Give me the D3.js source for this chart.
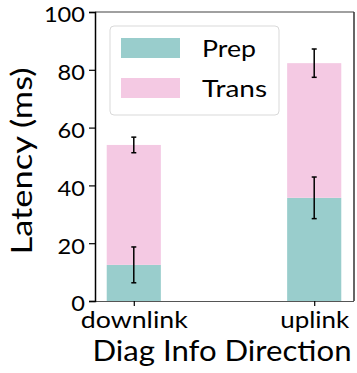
<!DOCTYPE html>
<html><head><meta charset="utf-8">
<script src="https://cdn.jsdelivr.net/npm/d3@7"></script>
<style>body{margin:0;background:#fff}svg{display:block}text{font-family:Lato,"Open Sans",sans-serif;fill:#000}</style>
</head><body><svg id="c" width="357" height="373"></svg>
<script>
const categories = ["downlink", "uplink"];
const seriesNames = ["Prep", "Trans"];
const prepValues = [12.5, 35.7];
const transValues = [41.5, 46.6];
const prepErr = [6.2, 7.2];
const transErr = [2.7, 4.9];
const yTicks = [0, 20, 40, 60, 80, 100];
const colors = ["#99cdcc", "#f4c9e3"];

const svg = d3.select("#c");
const L = 95, R = 353, T = 12, B = 301;
const x = d3.scaleLinear().domain([-0.215, 1.215]).range([L, R]);
const y = d3.scaleLinear().domain([0, 100]).range([B, T]);
const bw = 0.3;

// width-fit helper (reference font is narrower/shorter than available fonts)
function fit(sel, w) {
  sel.attr("textLength", w).attr("lengthAdjust", "spacingAndGlyphs");
}

const data = categories.map((c, i) => ({c, i, prep: prepValues[i], trans: transValues[i], pe: prepErr[i], te: transErr[i]}));

// bars
const g = svg.append("g");
g.selectAll("rect.prep").data(data).join("rect")
  .attr("x", d => x(d.i - bw/2)).attr("width", d => x(d.i + bw/2) - x(d.i - bw/2))
  .attr("y", d => y(d.prep)).attr("height", d => y(0) - y(d.prep)).attr("fill", colors[0]);
g.selectAll("rect.trans").data(data).join("rect")
  .attr("x", d => x(d.i - bw/2)).attr("width", d => x(d.i + bw/2) - x(d.i - bw/2))
  .attr("y", d => y(d.prep + d.trans)).attr("height", d => y(d.prep) - y(d.prep + d.trans)).attr("fill", colors[1]);

// error bars
const errs = [];
data.forEach(d => {
  errs.push({i: d.i, v: d.prep, e: d.pe});
  errs.push({i: d.i, v: d.prep + d.trans, e: d.te});
});
const eg = svg.append("g").attr("stroke", "#000").attr("stroke-width", 1.5);
errs.forEach(e => {
  const cx = x(e.i);
  eg.append("line").attr("x1", cx).attr("x2", cx).attr("y1", y(e.v - e.e)).attr("y2", y(e.v + e.e));
  [e.v - e.e, e.v + e.e].forEach(v => eg.append("line").attr("x1", cx - 2.5).attr("x2", cx + 2.5).attr("y1", y(v)).attr("y2", y(v)));
});

// spines
svg.append("line").attr("x1", L).attr("x2", R + 1).attr("y1", T).attr("y2", T).attr("stroke", "#808080").attr("stroke-width", 1.5);
svg.append("line").attr("x1", R + 1).attr("x2", R + 1).attr("y1", T).attr("y2", B).attr("stroke", "#333").attr("stroke-width", 1.5);
svg.append("line").attr("x1", L).attr("x2", R + 1).attr("y1", B + 0.5).attr("y2", B + 0.5).attr("stroke", "#555").attr("stroke-width", 1.2);

// y axis
const ya = svg.append("g").attr("transform", `translate(${L},0)`)
  .call(d3.axisLeft(y).tickValues(yTicks).tickSize(6).tickPadding(4).tickFormat(d3.format("d")));
ya.select(".domain").attr("stroke", "#000").attr("stroke-width", 1.5);
ya.selectAll(".tick line").attr("stroke", "#000").attr("stroke-width", 1.2);
ya.selectAll(".tick text").style("font-size", "22px").attr("dy", "0.45em")
  .each(function(d) { fit(d3.select(this), String(d).length * 13.7); });

// x axis
const xa = svg.append("g").attr("transform", `translate(0,${B})`)
  .call(d3.axisBottom(x).tickValues(categories.map((c, i) => i)).tickSize(5).tickPadding(3).tickFormat(i => categories[i]));
xa.select(".domain").remove();
xa.selectAll(".tick line").attr("stroke", "#000").attr("stroke-width", 1.2);
const xLabW = [107, 69];
xa.selectAll(".tick text").style("font-size", "23px").attr("y", 27).attr("dy", 0)
  .each(function(d) { fit(d3.select(this), xLabW[d]); });

// axis titles
fit(svg.append("text").attr("x", 222).attr("y", 361).attr("text-anchor", "middle").style("font-size", "29px").text("Diag Info Direction"), 259);
fit(svg.append("text").attr("transform", `translate(32,161) rotate(-90)`).attr("text-anchor", "middle").style("font-size", "28px").text("Latency (ms)"), 187);

// legend
const lg = svg.append("g");
lg.append("rect").attr("x", 110).attr("y", 26).attr("width", 169).attr("height", 89).attr("rx", 4)
  .attr("fill", "#fff").attr("fill-opacity", 0.8).attr("stroke", "#d9d9d9").attr("stroke-width", 1);
const legW = [54, 65];
seriesNames.forEach((s, k) => {
  lg.append("rect").attr("x", 121).attr("y", 38 + k * 40).attr("width", 59).attr("height", 20).attr("fill", colors[k]);
  fit(lg.append("text").attr("x", 202).attr("y", 57 + k * 40).style("font-size", "23px").text(s), legW[k]);
});
</script></body></html>
